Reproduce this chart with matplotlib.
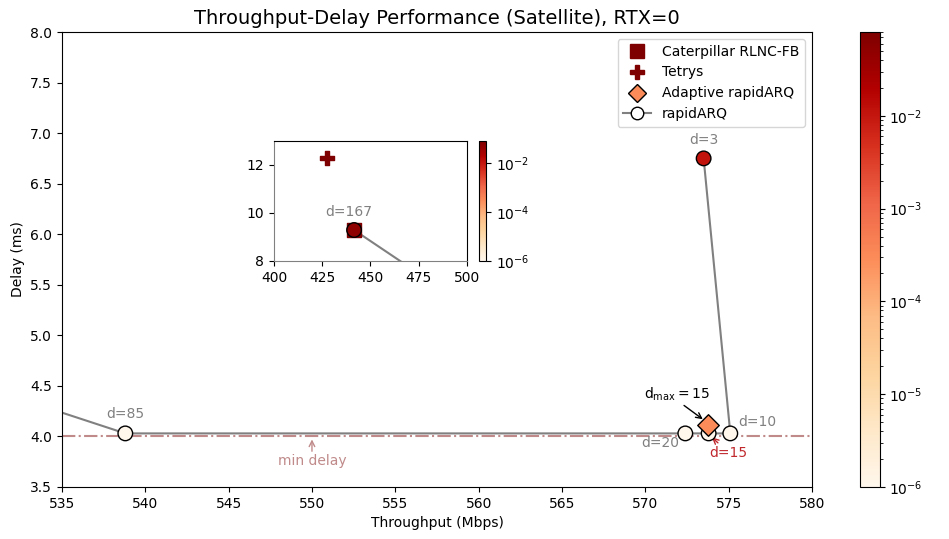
import numpy as np
import matplotlib
matplotlib.use("Agg")
import matplotlib.pyplot as plt
from matplotlib.colors import LogNorm
from matplotlib.lines import Line2D
from matplotlib.ticker import NullLocator

# rapidARQ sweep over d (throughput Mbps, delay ms, residual loss)
rapid_d = [167, 85, 20, 15, 10, 3]
rapid_thr = [441.5, 538.8, 572.4, 573.8, 575.1, 573.5]
rapid_delay = [9.29, 4.03, 4.03, 4.03, 4.03, 6.75]
rapid_loss = [5e-2, 1e-6, 1e-6, 1e-6, 1e-6, 1.1e-2]

# adaptive rapidARQ (d_max = 15)
adapt_thr = [573.75]
adapt_delay = [4.11]
adapt_loss = [3e-4]

# reference schemes
cat_thr = [441.5]
cat_delay = [9.29]
cat_loss = [8e-2]
tet_thr = [427.5]
tet_delay = [12.29]
tet_loss = [8e-2]

min_delay = 4.0

cmap = plt.get_cmap("OrRd")
norm = LogNorm(vmin=1e-6, vmax=8e-2)


def draw(ax):
    ax.plot(rapid_thr, rapid_delay, "-", color="grey", lw=1.5, zorder=2)
    ax.scatter(cat_thr, cat_delay, c=cat_loss, cmap=cmap, norm=norm,
               marker="s", s=110, zorder=3)
    ax.scatter(tet_thr, tet_delay, c=tet_loss, cmap=cmap, norm=norm,
               marker="P", s=110, zorder=3)
    ax.scatter(rapid_thr, rapid_delay, c=rapid_loss, cmap=cmap, norm=norm,
               marker="o", s=110, edgecolors="black", linewidths=1, zorder=4)
    sc = ax.scatter(adapt_thr, adapt_delay, c=adapt_loss, cmap=cmap, norm=norm,
                    marker="D", s=120, edgecolors="black", linewidths=1, zorder=5)
    return sc


fig = plt.figure(figsize=(9.49, 5.39), dpi=100)
ax = fig.add_axes([0.0653, 0.0965, 0.7903, 0.8441])
sc = draw(ax)
ax.axhline(min_delay, color="#c08a8a", ls="-.", lw=1.5, zorder=1)
ax.set_xlim(535, 580)
ax.set_ylim(3.5, 8)
ax.set_yticks(np.arange(3.5, 8.01, 0.5))
ax.set_xlabel("Throughput (Mbps)")
ax.set_ylabel("Delay (ms)")
ax.set_title("Throughput-Delay Performance (Satellite), RTX=0", fontsize=14)

# d labels
grey = "grey"
ax.text(538.8, 4.22, "d=85", color=grey, ha="center", va="center", fontsize=10)
ax.text(570.9, 3.935, "d=20", color=grey, ha="center", va="center", fontsize=10)
ax.text(576.7, 4.14, "d=10", color=grey, ha="center", va="center", fontsize=10)
ax.text(573.5, 6.93, "d=3", color=grey, ha="center", va="center", fontsize=10)
arr = dict(arrowstyle="->", lw=1, shrinkA=0, shrinkB=0)
ax.annotate("d=15", xy=(574.0, 3.99), xytext=(575.0, 3.84), color="#c0282d",
            ha="center", va="center", fontsize=10,
            arrowprops=dict(arr, color="#c0282d", relpos=(0.3, 1.0)))
ax.annotate(r"d$_{\mathrm{max}}=15$", xy=(573.45, 4.17), xytext=(571.9, 4.42),
            ha="center", va="center", fontsize=10,
            arrowprops=dict(arr, color="black", relpos=(0.55, 0.0)))
ax.annotate("min delay", xy=(550.0, 3.97), xytext=(550.0, 3.757), color="#c08a8a",
            ha="center", va="center", fontsize=10,
            arrowprops=dict(arr, color="#c08a8a", relpos=(0.5, 1.0)))

handles = [
    Line2D([], [], marker="s", ls="none", color=cmap(norm(cat_loss[0])), markersize=10),
    Line2D([], [], marker="P", ls="none", color=cmap(norm(tet_loss[0])), markersize=10),
    Line2D([], [], marker="D", ls="none", markerfacecolor=cmap(norm(adapt_loss[0])),
           markeredgecolor="black", markersize=9),
    Line2D([], [], marker="o", ls="-", color="grey", markerfacecolor="white",
           markeredgecolor="black", markersize=9),
]
ax.legend(handles, ["Caterpillar RLNC-FB", "Tetrys", "Adaptive rapidARQ", "rapidARQ"],
          loc="upper right", fontsize=10)

cax = fig.add_axes([0.906, 0.0965, 0.021, 0.8441])
cb = fig.colorbar(sc, cax=cax)

# inset
iax = fig.add_axes([0.2887, 0.5158, 0.2034, 0.2226])
isc = draw(iax)
iax.set_xlim(400, 500)
iax.set_ylim(8, 13)
iax.set_xticks([400, 425, 450, 475, 500])
iax.set_yticks([8, 10, 12])
iax.text(438.9, 10.04, "d=167", color=grey, ha="center", va="center", fontsize=10)
for s in ["left", "bottom"]:
    iax.spines[s].set_color("grey")
icax = fig.add_axes([0.5047, 0.5158, 0.0074, 0.2226])
icb = fig.colorbar(isc, cax=icax)
icb.set_ticks([1e-6, 1e-4, 1e-2])
icb.ax.yaxis.set_minor_locator(NullLocator())

fig.savefig("out.png", dpi=100)
